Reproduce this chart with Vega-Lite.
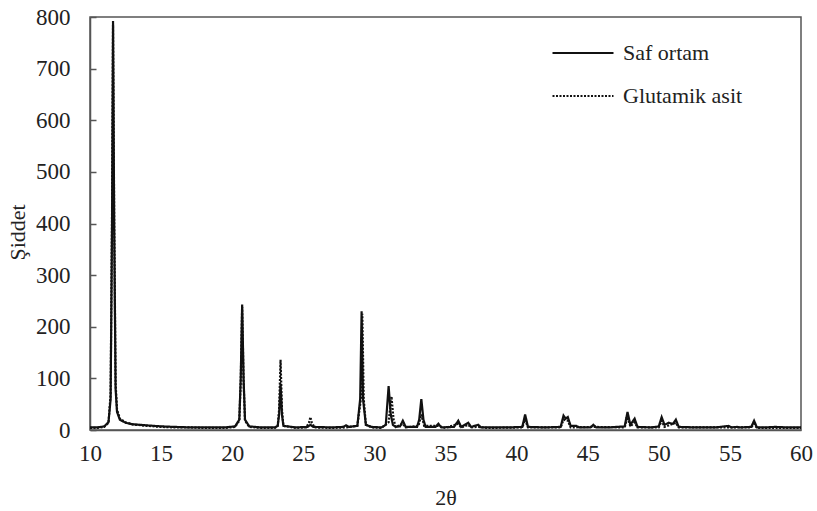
{
  "$schema": "https://vega.github.io/schema/vega-lite/v6.json",
  "width": 711,
  "height": 413,
  "autosize": "none",
  "padding": {"left": 90, "top": 17, "right": 16, "bottom": 81},
  "config": {
    "font": "Liberation Serif",
    "view": {"stroke": "#555", "strokeWidth": 1.5},
    "axis": {"grid": false, "domainColor": "#555", "domainWidth": 1.5, "labelColor": "#222", "titleColor": "#222", "labelFont": "Liberation Serif", "titleFont": "Liberation Serif", "labelFontSize": 23, "titleFontSize": 22, "titleFontWeight": "normal", "labelFlush": false}
  },
  "data": {"values": [
    {"s":"Saf ortam","x":10,"y":5},{"s":"Saf ortam","x":10.5,"y":5},{"s":"Saf ortam","x":11.0,"y":7},{"s":"Saf ortam","x":11.3,"y":15},{"s":"Saf ortam","x":11.45,"y":60},{"s":"Saf ortam","x":11.55,"y":400},{"s":"Saf ortam","x":11.62,"y":785},{"s":"Saf ortam","x":11.7,"y":400},{"s":"Saf ortam","x":11.8,"y":80},{"s":"Saf ortam","x":11.9,"y":35},{"s":"Saf ortam","x":12.1,"y":20},{"s":"Saf ortam","x":12.5,"y":14},{"s":"Saf ortam","x":13,"y":11},{"s":"Saf ortam","x":14,"y":9},{"s":"Saf ortam","x":15,"y":7},{"s":"Saf ortam","x":16,"y":6},{"s":"Saf ortam","x":17,"y":5},{"s":"Saf ortam","x":18,"y":5},{"s":"Saf ortam","x":19,"y":5},{"s":"Saf ortam","x":19.5,"y":5},{"s":"Saf ortam","x":20.2,"y":7},{"s":"Saf ortam","x":20.5,"y":20},{"s":"Saf ortam","x":20.6,"y":100},{"s":"Saf ortam","x":20.7,"y":243},{"s":"Saf ortam","x":20.8,"y":100},{"s":"Saf ortam","x":20.9,"y":20},{"s":"Saf ortam","x":21.2,"y":7},{"s":"Saf ortam","x":22,"y":5},{"s":"Saf ortam","x":23,"y":5},{"s":"Saf ortam","x":23.2,"y":8},{"s":"Saf ortam","x":23.3,"y":30},{"s":"Saf ortam","x":23.4,"y":90},{"s":"Saf ortam","x":23.5,"y":30},{"s":"Saf ortam","x":23.6,"y":8},{"s":"Saf ortam","x":24.5,"y":5},{"s":"Saf ortam","x":25.3,"y":6},{"s":"Saf ortam","x":25.5,"y":10},{"s":"Saf ortam","x":25.7,"y":6},{"s":"Saf ortam","x":27,"y":5},{"s":"Saf ortam","x":27.8,"y":6},{"s":"Saf ortam","x":28.0,"y":9},{"s":"Saf ortam","x":28.2,"y":6},{"s":"Saf ortam","x":28.8,"y":8},{"s":"Saf ortam","x":29.0,"y":60},{"s":"Saf ortam","x":29.1,"y":230},{"s":"Saf ortam","x":29.2,"y":60},{"s":"Saf ortam","x":29.4,"y":10},{"s":"Saf ortam","x":29.8,"y":6},{"s":"Saf ortam","x":30.5,"y":5},{"s":"Saf ortam","x":30.8,"y":10},{"s":"Saf ortam","x":31.0,"y":85},{"s":"Saf ortam","x":31.15,"y":30},{"s":"Saf ortam","x":31.3,"y":10},{"s":"Saf ortam","x":31.5,"y":6},{"s":"Saf ortam","x":31.8,"y":7},{"s":"Saf ortam","x":32.0,"y":18},{"s":"Saf ortam","x":32.2,"y":6},{"s":"Saf ortam","x":33.0,"y":6},{"s":"Saf ortam","x":33.15,"y":20},{"s":"Saf ortam","x":33.3,"y":60},{"s":"Saf ortam","x":33.45,"y":20},{"s":"Saf ortam","x":33.6,"y":6},{"s":"Saf ortam","x":34.3,"y":6},{"s":"Saf ortam","x":34.5,"y":12},{"s":"Saf ortam","x":34.7,"y":5},{"s":"Saf ortam","x":35.6,"y":6},{"s":"Saf ortam","x":35.9,"y":18},{"s":"Saf ortam","x":36.1,"y":6},{"s":"Saf ortam","x":36.6,"y":14},{"s":"Saf ortam","x":36.8,"y":6},{"s":"Saf ortam","x":37.3,"y":10},{"s":"Saf ortam","x":37.5,"y":5},{"s":"Saf ortam","x":38.5,"y":5},{"s":"Saf ortam","x":39.5,"y":5},{"s":"Saf ortam","x":40.4,"y":6},{"s":"Saf ortam","x":40.6,"y":30},{"s":"Saf ortam","x":40.8,"y":6},{"s":"Saf ortam","x":42,"y":5},{"s":"Saf ortam","x":43.1,"y":6},{"s":"Saf ortam","x":43.3,"y":28},{"s":"Saf ortam","x":43.45,"y":22},{"s":"Saf ortam","x":43.6,"y":25},{"s":"Saf ortam","x":43.8,"y":8},{"s":"Saf ortam","x":44.2,"y":8},{"s":"Saf ortam","x":44.4,"y":5},{"s":"Saf ortam","x":45.2,"y":5},{"s":"Saf ortam","x":45.4,"y":10},{"s":"Saf ortam","x":45.6,"y":5},{"s":"Saf ortam","x":46.5,"y":5},{"s":"Saf ortam","x":47.6,"y":7},{"s":"Saf ortam","x":47.8,"y":35},{"s":"Saf ortam","x":48.0,"y":10},{"s":"Saf ortam","x":48.3,"y":22},{"s":"Saf ortam","x":48.5,"y":6},{"s":"Saf ortam","x":49.5,"y":5},{"s":"Saf ortam","x":50.0,"y":7},{"s":"Saf ortam","x":50.2,"y":25},{"s":"Saf ortam","x":50.4,"y":10},{"s":"Saf ortam","x":50.7,"y":14},{"s":"Saf ortam","x":51.0,"y":12},{"s":"Saf ortam","x":51.2,"y":20},{"s":"Saf ortam","x":51.4,"y":6},{"s":"Saf ortam","x":52.5,"y":5},{"s":"Saf ortam","x":54.0,"y":5},{"s":"Saf ortam","x":54.9,"y":8},{"s":"Saf ortam","x":55.1,"y":5},{"s":"Saf ortam","x":55.5,"y":6},{"s":"Saf ortam","x":55.7,"y":5},{"s":"Saf ortam","x":56.5,"y":6},{"s":"Saf ortam","x":56.7,"y":18},{"s":"Saf ortam","x":56.9,"y":5},{"s":"Saf ortam","x":57.5,"y":5},{"s":"Saf ortam","x":58.2,"y":6},{"s":"Saf ortam","x":59,"y":5},{"s":"Saf ortam","x":60,"y":5},
    {"s":"Glutamik asit","x":10,"y":4},{"s":"Glutamik asit","x":10.5,"y":4},{"s":"Glutamik asit","x":11.0,"y":6},{"s":"Glutamik asit","x":11.3,"y":14},{"s":"Glutamik asit","x":11.45,"y":70},{"s":"Glutamik asit","x":11.55,"y":420},{"s":"Glutamik asit","x":11.62,"y":792},{"s":"Glutamik asit","x":11.7,"y":420},{"s":"Glutamik asit","x":11.8,"y":90},{"s":"Glutamik asit","x":11.9,"y":40},{"s":"Glutamik asit","x":12.1,"y":22},{"s":"Glutamik asit","x":12.5,"y":15},{"s":"Glutamik asit","x":13,"y":11},{"s":"Glutamik asit","x":14,"y":8},{"s":"Glutamik asit","x":15,"y":6},{"s":"Glutamik asit","x":16,"y":5},{"s":"Glutamik asit","x":17,"y":5},{"s":"Glutamik asit","x":18,"y":4},{"s":"Glutamik asit","x":19,"y":4},{"s":"Glutamik asit","x":19.5,"y":4},{"s":"Glutamik asit","x":20.2,"y":6},{"s":"Glutamik asit","x":20.5,"y":18},{"s":"Glutamik asit","x":20.6,"y":95},{"s":"Glutamik asit","x":20.7,"y":238},{"s":"Glutamik asit","x":20.8,"y":95},{"s":"Glutamik asit","x":20.9,"y":18},{"s":"Glutamik asit","x":21.2,"y":6},{"s":"Glutamik asit","x":22,"y":4},{"s":"Glutamik asit","x":23,"y":4},{"s":"Glutamik asit","x":23.2,"y":8},{"s":"Glutamik asit","x":23.3,"y":40},{"s":"Glutamik asit","x":23.4,"y":136},{"s":"Glutamik asit","x":23.5,"y":40},{"s":"Glutamik asit","x":23.6,"y":8},{"s":"Glutamik asit","x":24.5,"y":4},{"s":"Glutamik asit","x":25.2,"y":5},{"s":"Glutamik asit","x":25.4,"y":14},{"s":"Glutamik asit","x":25.5,"y":25},{"s":"Glutamik asit","x":25.6,"y":14},{"s":"Glutamik asit","x":25.8,"y":5},{"s":"Glutamik asit","x":27,"y":4},{"s":"Glutamik asit","x":28,"y":5},{"s":"Glutamik asit","x":28.8,"y":8},{"s":"Glutamik asit","x":29.05,"y":60},{"s":"Glutamik asit","x":29.15,"y":225},{"s":"Glutamik asit","x":29.25,"y":60},{"s":"Glutamik asit","x":29.4,"y":10},{"s":"Glutamik asit","x":29.8,"y":5},{"s":"Glutamik asit","x":30.5,"y":4},{"s":"Glutamik asit","x":31.0,"y":15},{"s":"Glutamik asit","x":31.2,"y":65},{"s":"Glutamik asit","x":31.35,"y":20},{"s":"Glutamik asit","x":31.5,"y":6},{"s":"Glutamik asit","x":32.0,"y":12},{"s":"Glutamik asit","x":32.2,"y":5},{"s":"Glutamik asit","x":33.1,"y":8},{"s":"Glutamik asit","x":33.3,"y":30},{"s":"Glutamik asit","x":33.5,"y":8},{"s":"Glutamik asit","x":34.5,"y":8},{"s":"Glutamik asit","x":35,"y":4},{"s":"Glutamik asit","x":35.9,"y":12},{"s":"Glutamik asit","x":36.1,"y":5},{"s":"Glutamik asit","x":36.6,"y":10},{"s":"Glutamik asit","x":36.8,"y":5},{"s":"Glutamik asit","x":37.3,"y":6},{"s":"Glutamik asit","x":38,"y":4},{"s":"Glutamik asit","x":40.4,"y":5},{"s":"Glutamik asit","x":40.6,"y":20},{"s":"Glutamik asit","x":40.8,"y":5},{"s":"Glutamik asit","x":43.1,"y":5},{"s":"Glutamik asit","x":43.3,"y":20},{"s":"Glutamik asit","x":43.6,"y":18},{"s":"Glutamik asit","x":43.8,"y":5},{"s":"Glutamik asit","x":45.4,"y":6},{"s":"Glutamik asit","x":47.6,"y":5},{"s":"Glutamik asit","x":47.8,"y":25},{"s":"Glutamik asit","x":48.0,"y":7},{"s":"Glutamik asit","x":48.3,"y":15},{"s":"Glutamik asit","x":48.5,"y":5},{"s":"Glutamik asit","x":50.0,"y":5},{"s":"Glutamik asit","x":50.2,"y":18},{"s":"Glutamik asit","x":50.4,"y":6},{"s":"Glutamik asit","x":51.2,"y":14},{"s":"Glutamik asit","x":51.4,"y":5},{"s":"Glutamik asit","x":54.9,"y":5},{"s":"Glutamik asit","x":56.5,"y":5},{"s":"Glutamik asit","x":56.7,"y":12},{"s":"Glutamik asit","x":56.9,"y":4},{"s":"Glutamik asit","x":58,"y":4},{"s":"Glutamik asit","x":60,"y":4}
  ]},
  "mark": {"type": "line", "color": "#111", "strokeWidth": 2.2, "interpolate": "linear"},
  "encoding": {
    "x": {"field": "x", "type": "quantitative", "title": "2θ",
      "scale": {"domain": [10, 60], "nice": false, "zero": false},
      "axis": {"values": [10,15,20,25,30,35,40,45,50,55,60], "ticks": false, "labelPadding": 12, "titleY": 67, "titleBaseline": "middle"}},
    "y": {"field": "y", "type": "quantitative", "title": "Şiddet",
      "scale": {"domain": [0, 800], "nice": false},
      "axis": {"values": [0,100,200,300,400,500,600,700,800], "tickSize": -6, "tickColor": "#555", "tickWidth": 1.5, "labelPadding": 26, "titleX": -73, "titleY": 215, "titleAngle": -90, "titleBaseline": "middle", "titleAlign": "center"}},
    "strokeDash": {"field": "s", "type": "nominal", "title": null,
      "scale": {"domain": ["Saf ortam", "Glutamik asit"], "range": [[1, 0], [2, 1.5]]},
      "legend": {"orient": "none", "legendX": 461, "legendY": 4, "padding": 0, "symbolType": "stroke", "symbolSize": 3721, "symbolStrokeWidth": 2.2, "symbolStrokeColor": "#111", "labelFontSize": 22, "labelFont": "Liberation Serif", "labelColor": "#222", "labelOffset": 8, "rowPadding": -16}},
    "order": {"field": "s", "sort": "descending"}
  }
}
